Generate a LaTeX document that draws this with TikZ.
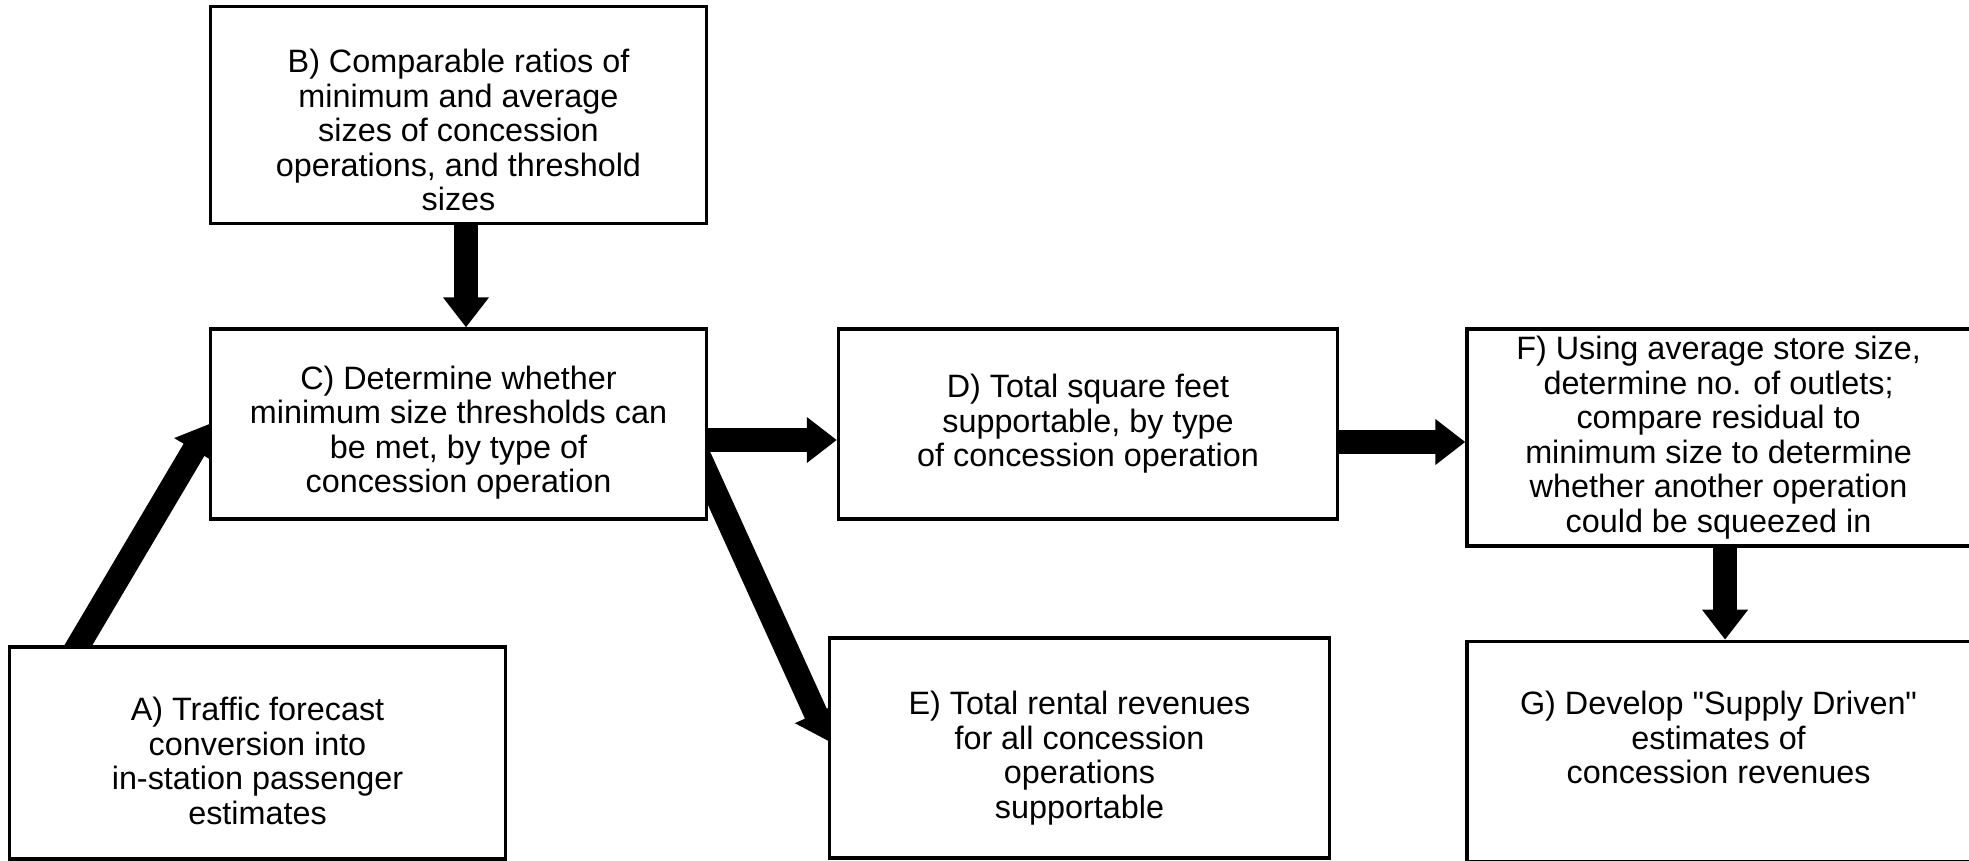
\documentclass[tikz,border=0pt]{standalone}
\usepackage{fontspec}
\setmainfont{Liberation Sans}
\usetikzlibrary{arrows.meta,positioning,backgrounds}

\begin{document}
\begin{tikzpicture}[
    x=0.01cm, y=-0.01cm,
    box/.style={draw, line width=0.9pt, fill=white, align=center, inner sep=0pt,
      font=\fontsize{9.2}{9.8}\selectfont},
    bigarrow/.style={-{Triangle[width=0.44cm, length=0.3cm]}, line width=0.24cm}
  ]
    \useasboundingbox (0,0) rectangle (1969,861);

    \node[box, minimum width=4.95cm, minimum height=1.90cm, text height=41pt] (C) at (458.5,424)
      {C) Determine whether\\minimum size thresholds can\\be met, by type of\\concession operation};
    \node[box, minimum width=4.95cm, minimum height=2.17cm, text height=54.4pt, above=1.02cm of C] (B)
      {B) Comparable ratios of\\minimum and average\\sizes of concession\\operations, and threshold\\sizes};
    \node[box, minimum width=4.99cm, minimum height=1.90cm, right=1.29cm of C] (D)
      {D) Total square feet\\supportable, by type\\of concession operation};
    \node[box, minimum width=5.03cm, minimum height=2.17cm, right=1.26cm of D.north east, anchor=north west] (F)
      {F) Using average store size,\\determine no. of outlets;\\compare residual to\\minimum size to determine\\whether another operation\\could be squeezed in};
    \node[box, minimum width=5.03cm, minimum height=2.20cm, text height=18.4pt, below=0.92cm of F] (G)
      {G) Develop \textquotedbl Supply Driven\textquotedbl\\estimates of\\concession revenues};
    \node[box, minimum width=4.99cm, minimum height=2.20cm, text height=41.8pt] (E) at (1079.5,748)
      {E) Total rental revenues\\for all concession\\operations\\supportable};
    \node[box, minimum width=4.95cm, minimum height=2.12cm, text height=40.6pt] (A) at (257.5,753)
      {A) Traffic forecast\\conversion into\\in-station passenger\\estimates};

    % arrows go behind the boxes
    \begin{pgfonlayer}{background}
      \draw[bigarrow] ([shift={(-1.88cm,-0.15cm)}]A.north) -- (C.west);
      \draw[bigarrow] ([xshift=0.075cm]B.south) -- ([xshift=0.075cm]C.north);
      \draw[bigarrow] ([yshift=-0.16cm]C.east) -- ([yshift=-0.16cm]D.west);
      \draw[bigarrow] ([shift={(-0.12cm,-0.25cm)}]C.east) -- ([yshift=0.07cm]E.west);
      \draw[bigarrow] ([yshift=-0.18cm]D.east) -- ([yshift=-0.18cm]D.east -| F.west);
      \draw[bigarrow] ([xshift=0.065cm]F.south) -- ([xshift=0.065cm]G.north);
    \end{pgfonlayer}
\end{tikzpicture}
\end{document}
